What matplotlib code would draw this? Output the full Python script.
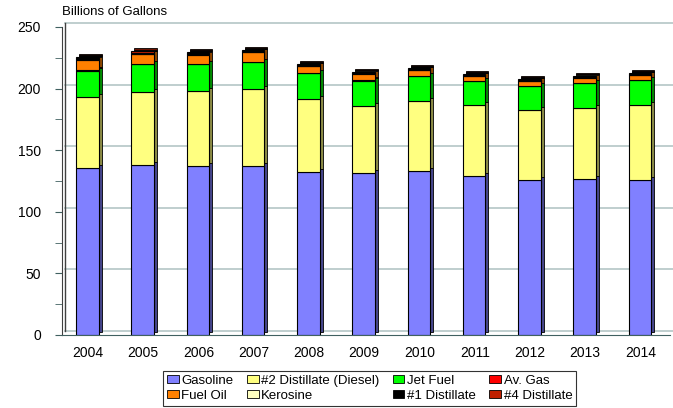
import numpy as np
import matplotlib
matplotlib.use("Agg")
import matplotlib.pyplot as plt
import matplotlib.transforms as mtransforms
from matplotlib.patches import Patch

plt.rcParams['font.family'] = ['Liberation Sans', 'DejaVu Sans']

years = ['2004', '2005', '2006', '2007', '2008', '2009', '2010', '2011', '2012', '2013', '2014']

# billions of gallons
gasoline = [135.6, 138.0, 137.5, 137.5, 132.0, 131.8, 132.9, 129.1, 126.1, 126.7, 126.1]
diesel = [57.7, 59.0, 60.3, 62.2, 59.3, 54.2, 57.1, 57.3, 56.6, 57.3, 60.3]
jet_fuel = [21.3, 22.7, 22.0, 21.6, 21.1, 20.4, 20.0, 19.5, 19.3, 20.5, 20.3]
av_gas = [0.3, 0.3, 0.3, 0.3, 0.2, 0.2, 0.2, 0.2, 0.2, 0.2, 0.2]
fuel_oil = [8.4, 7.9, 7.2, 7.7, 5.6, 5.5, 4.6, 3.8, 4.0, 4.2, 4.0]
kerosine = [0.6, 0.5, 0.5, 0.4, 0.3, 0.2, 0.2, 0.2, 0.1, 0.1, 0.1]
dist1 = [0.8, 0.8, 0.7, 0.7, 0.7, 0.6, 0.6, 0.6, 0.6, 0.6, 0.6]
dist4 = [1.0, 1.0, 0.9, 0.9, 0.9, 0.8, 0.8, 0.8, 0.7, 0.7, 0.7]

names = ['Gasoline', '#2 Distillate (Diesel)', 'Jet Fuel', 'Av. Gas',
         'Fuel Oil', 'Kerosine', '#1 Distillate', '#4 Distillate']
series = [gasoline, diesel, jet_fuel, av_gas, fuel_oil, kerosine, dist1, dist4]
colors = ['#8080ff', '#ffff80', '#00ff00', '#ff0000',
          '#ff8000', '#ffffc0', '#000000', '#c02000']

fig = plt.figure(figsize=(6.73, 4.08), dpi=100)
ax = fig.add_axes([0.092, 0.179, 0.904, 0.755])

x = np.arange(len(years))
w = 0.41

# back wall / floor offset (3D look)
back = mtransforms.offset_copy(ax.transData, fig=fig, x=3, y=4, units='dots')
shadow = mtransforms.offset_copy(ax.transData, fig=fig, x=3, y=3, units='dots')

for yv in [0, 50, 100, 150, 200, 250]:
    ax.plot([-0.47, 10.6], [yv, yv], color='#b4c6c6', lw=1.2, transform=back,
            clip_on=False, zorder=0)

bottom = np.zeros(len(years))
for vals, c in zip(series, colors):
    vals = np.array(vals)
    dark = tuple(np.array(matplotlib.colors.to_rgb(c)) * 0.55)
    bars = ax.bar(x - 0.01, vals, w, bottom=bottom, color=dark, edgecolor='black',
                  linewidth=0.6, zorder=1)
    for p in bars:
        p.set_transform(shadow)
    ax.bar(x - 0.01, vals, w, bottom=bottom, color=c, edgecolor='black',
           linewidth=0.8, zorder=2)
    bottom += vals

ax.set_xlim(-0.47, 10.54)
ax.set_ylim(0, 250)
ax.set_xticks(x)
ax.set_xticklabels(years, fontsize=10)
ax.tick_params(axis='x', length=0, pad=8)
ax.set_yticks([0, 50, 100, 150, 200, 250])
ax.set_yticks(np.arange(0, 251, 25), minor=True)
ax.tick_params(axis='y', which='both', direction='out', length=5, color='#406060',
               labelsize=10, pad=10)
for s in ['top', 'right']:
    ax.spines[s].set_visible(False)
ax.spines['left'].set_color('#404040')
ax.spines['bottom'].set_color('#406060')
ax.plot([-0.47, -0.47], [0, 250], color='#404040', lw=1.0, transform=back,
        clip_on=False, zorder=0)

ax.text(0.0, 1.03, 'Billions of Gallons', transform=ax.transAxes, fontsize=9.5,
        ha='left', va='bottom')

handles = [Patch(facecolor=c, edgecolor='black', linewidth=0.6) for c in colors]
order = [0, 4, 1, 5, 2, 6, 3, 7]
leg = fig.legend([handles[i] for i in order], [names[i] for i in order],
                 loc='lower left', bbox_to_anchor=(0.242, 0.005), ncol=4,
                 fontsize=9.5, frameon=True, fancybox=False, handlelength=0.9,
                 handleheight=0.55, handletextpad=0.2, columnspacing=1.0,
                 labelspacing=0.25, borderpad=0.3, borderaxespad=0)
leg.get_frame().set_edgecolor('black')
leg.get_frame().set_linewidth(0.8)

fig.savefig('out.png', dpi=100)
